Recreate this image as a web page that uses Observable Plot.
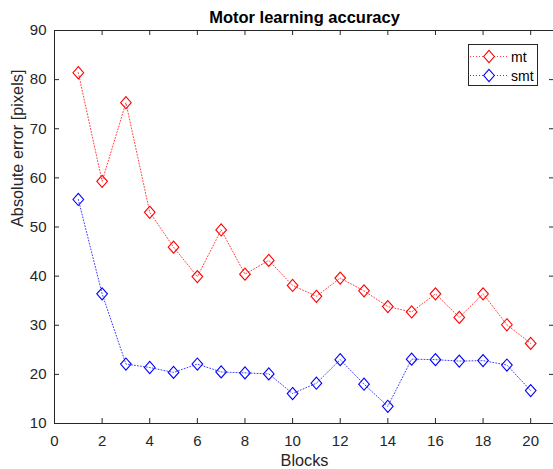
<!DOCTYPE html>
<html><head><meta charset="utf-8">
<script src="https://cdn.jsdelivr.net/npm/d3@7"></script>
<script src="https://cdn.jsdelivr.net/npm/@observablehq/plot@0.6"></script>
<style>
html,body{margin:0;padding:0;background:#fff;overflow:hidden}
#wrap{position:relative;width:553px;height:469px}
#wrap svg{display:block}
</style></head><body><div id="wrap"></div>
<script>
const blocks = [1,2,3,4,5,6,7,8,9,10,11,12,13,14,15,16,17,18,19,20];
const mt  = [81.4,59.3,75.3,53.0,45.9,39.9,49.4,40.4,43.2,38.1,35.9,39.6,37.0,33.8,32.7,36.4,31.6,36.4,30.1,26.3];
const smt = [55.6,36.4,22.1,21.4,20.4,22.1,20.5,20.3,20.1,16.1,18.2,23.0,18.0,13.5,23.1,23.0,22.7,22.8,21.9,16.7];
const seriesNames = ["mt","smt"];
const seriesColors = ["#ff0000","#0000ff"];
const xTicks = [0,2,4,6,8,10,12,14,16,18,20];
const yTicks = [10,20,30,40,50,60,70,80,90];
const titleText = "Motor learning accuracy";
const xLabel = "Blocks";
const yLabel = "Absolute error [pixels]";

const W = 553, H = 469, mL = 54, mR = -1, mT = 30, mB = 46;
const fW = W - mL - mR, fH = H - mT - mB;
const tk = 5;
const axisColor = "#262626";

const diamond = {draw(ctx, size){
  const r = Math.sqrt(size/Math.PI); const w = r*0.95, h = r*1.08;
  ctx.moveTo(0,-h); ctx.lineTo(w,0); ctx.lineTo(0,h); ctx.lineTo(-w,0); ctx.closePath();
}};

const rows = [];
[mt, smt].forEach((arr, si) => arr.forEach((v, i) => rows.push({block: blocks[i], value: v, series: seriesNames[si]})));

const marks = [
  Plot.frame({stroke: axisColor}),
  Plot.ruleX(xTicks, {x: d => d, insetTop: fH - tk, stroke: axisColor}),
  Plot.ruleX(xTicks, {x: d => d, insetBottom: fH - tk, stroke: axisColor}),
  Plot.ruleY(yTicks, {y: d => d, insetRight: fW - tk, stroke: axisColor}),
  Plot.ruleY(yTicks, {y: d => d, insetLeft: fW - tk, stroke: axisColor})
];
seriesNames.forEach((name, si) => {
  const d = rows.filter(r => r.series === name);
  marks.push(Plot.line(d, {x: "block", y: "value", stroke: seriesColors[si], strokeWidth: 1, strokeOpacity: 0.75, strokeDasharray: "1 2"}));
  marks.push(Plot.dot(d, {x: "block", y: "value", symbol: diamond, r: 5.6, stroke: seriesColors[si], strokeWidth: 1.1, fill: "none"}));
});
marks.push(Plot.text([titleText], {text: d => d, frameAnchor: "top", lineAnchor: "bottom", dy: -7.5, fontSize: 16.5, fontWeight: "bold", fill: "#000"}));
marks.push(Plot.text([xLabel], {text: d => d, frameAnchor: "bottom", lineAnchor: "bottom", dy: 42, fontSize: 16.3, fill: axisColor}));
marks.push(Plot.text([yLabel], {text: d => d, frameAnchor: "left", lineAnchor: "bottom", rotate: -90, dx: -32, fontSize: 16.3, fill: axisColor}));

const chart = Plot.plot({
  width: W, height: H,
  marginLeft: mL, marginRight: mR, marginTop: mT, marginBottom: mB,
  style: {fontFamily: "'Liberation Sans', Arial, sans-serif", fontSize: "15px", color: axisColor, background: "#fff"},
  x: {domain: [0, 21], ticks: xTicks, tickSize: 0, tickPadding: 12, label: null},
  y: {domain: [10, 90], ticks: yTicks, tickSize: 0, tickPadding: 8, label: null},
  marks
});
const wrap = document.getElementById("wrap");
wrap.appendChild(chart);

// legend
const lg = d3.select(wrap).append("svg")
  .attr("width", 70).attr("height", 42)
  .style("position", "absolute").style("left", "468px").style("top", "44px")
  .style("font-family", "'Liberation Sans', Arial, sans-serif");
lg.append("rect").attr("x", 0.5).attr("y", 0.5).attr("width", 69).attr("height", 41)
  .attr("fill", "#fff").attr("stroke", axisColor);
seriesNames.forEach((name, i) => {
  const cy = 12.5 + i * 19;
  lg.append("line").attr("x1", 2).attr("x2", 40).attr("y1", cy).attr("y2", cy)
    .attr("stroke", seriesColors[i]).attr("stroke-opacity", 0.75).attr("stroke-dasharray", "1 2");
  lg.append("path").attr("transform", `translate(21,${cy})`)
    .attr("d", d3.symbol(diamond, 5.6*5.6*Math.PI)())
    .attr("fill", "#fff").attr("stroke", seriesColors[i]).attr("stroke-width", 1.1);
  lg.append("text").attr("x", 43).attr("y", cy + 5).attr("font-size", 14).attr("fill", "#000").text(name);
});
</script></body></html>
